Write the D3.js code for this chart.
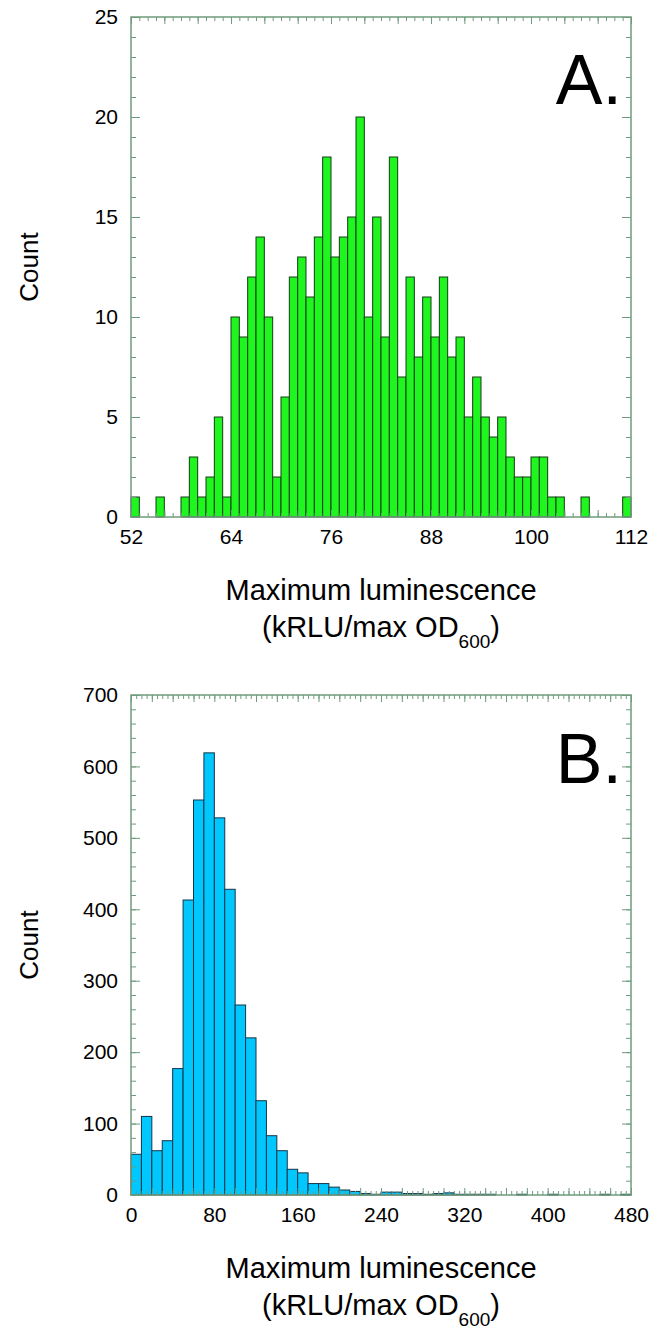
<!DOCTYPE html>
<html>
<head>
<meta charset="utf-8">
<script src="https://cdn.jsdelivr.net/npm/d3@7"></script>
<style>
  body { margin: 0; background: #fff; }
  text { font-family: "Liberation Sans", Arial, sans-serif; fill: #000; }
</style>
</head>
<body>
<div id="chart"></div>
<script>
// panel A: 1-unit bins from 52 to 112
const aBinStart = 52;
const aBinWidth = 1;
const aCounts = [1, 0, 0, 1, 0, 0, 1, 3, 1, 2, 5, 1, 10, 9, 12, 14, 10, 2, 6, 12,
	13, 11, 14, 18, 13, 14, 15, 20, 10, 15, 9, 18, 7, 12, 8, 11, 9, 12, 8, 9,
	5, 7, 5, 4, 5, 3, 2, 2, 3, 3, 1, 1, 0, 0, 1, 0, 0, 0, 0, 1];
const aXTicks = [52, 64, 76, 88, 100, 112];
const aYTicks = [0, 5, 10, 15, 20, 25];

// panel B: 10-unit bins from 0 to 480
const bBinStart = 0;
const bBinWidth = 10;
const bCounts = [57, 110, 62, 76, 177, 413, 553, 619, 528, 428, 266, 220, 132, 83, 62, 36,
	31, 16, 16, 11, 7, 5, 2, 1, 4, 4, 2, 2, 1, 2, 3, 1, 1, 1, 1, 0,
	0, 1, 0, 0, 1, 0, 0, 0, 0, 1, 0, 1];
const bXTicks = [0, 80, 160, 240, 320, 400, 480];
const bYTicks = [0, 100, 200, 300, 400, 500, 600, 700];

const width = 657;
const height = 1337;
const axisColor = "#6f9c7e";

const svg = d3.select("#chart")
	.append("svg")
	.attr("width", width)
	.attr("height", height);

function drawPanel(opts) {
	const x = d3.scaleLinear().domain(opts.xDomain).range([131, 631]);
	const y = d3.scaleLinear().domain(opts.yDomain).range([opts.bottom, opts.top]);
	const g = svg.append("g");

	// bars
	g.selectAll("rect.bar")
		.data(opts.counts)
		.join("rect")
		.attr("class", "bar")
		.attr("x", (d, i) => x(opts.binStart + i * opts.binWidth))
		.attr("width", x(opts.binWidth) - x(0))
		.attr("y", (d) => y(d))
		.attr("height", (d) => y(0) - y(d))
		.attr("fill", opts.fill)
		.attr("stroke", opts.stroke)
		.attr("stroke-width", 1)
		.attr("display", (d) => (d > 0 ? null : "none"));

	// ticks on all four sides, pointing inward
	const xMinor = d3.range(opts.xDomain[0], opts.xDomain[1] + 1e-9, opts.xMinor);
	const yMinor = d3.range(opts.yDomain[0], opts.yDomain[1] + 1e-9, opts.yMinor);

	const tickAxis = (axis, vals, size, tx, ty) =>
		g.append("g")
			.attr("transform", `translate(${tx},${ty})`)
			.call(axis.tickValues(vals).tickSize(size).tickFormat(""))
			.call((s) => s.select(".domain").remove())
			.call((s) => s.selectAll("line").attr("stroke", axisColor).attr("stroke-width", 1));

	tickAxis(d3.axisBottom(x), xMinor, -4, 0, opts.bottom);
	tickAxis(d3.axisTop(x), xMinor, -4, 0, opts.top);
	tickAxis(d3.axisBottom(x), opts.xMid, -7, 0, opts.bottom);
	tickAxis(d3.axisTop(x), opts.xMid, -7, 0, opts.top);
	tickAxis(d3.axisLeft(y), yMinor, -5, 131, 0);
	tickAxis(d3.axisRight(y), yMinor, -5, 631, 0);
	tickAxis(d3.axisLeft(y), opts.yTicks, -9, 131, 0);
	tickAxis(d3.axisRight(y), opts.yTicks, -9, 631, 0);

	// frame
	g.append("rect")
		.attr("x", 131)
		.attr("y", opts.top)
		.attr("width", 500)
		.attr("height", opts.bottom - opts.top)
		.attr("fill", "none")
		.attr("stroke", axisColor)
		.attr("stroke-width", 1.5);

	// tick labels
	g.append("g")
		.attr("transform", `translate(0,${opts.bottom})`)
		.call(d3.axisBottom(x).tickValues(opts.xTicks).tickSize(0).tickPadding(12))
		.call((s) => s.select(".domain").remove())
		.selectAll("text")
		.attr("font-size", 21)
		.attr("font-family", "Liberation Sans, Arial, sans-serif")
		.attr("fill", "#000");

	g.append("g")
		.attr("transform", "translate(131,0)")
		.call(d3.axisLeft(y).tickValues(opts.yTicks).tickSize(0).tickPadding(13))
		.call((s) => s.select(".domain").remove())
		.selectAll("text")
		.attr("font-size", 21)
		.attr("font-family", "Liberation Sans, Arial, sans-serif")
		.attr("fill", "#000");

	// axis titles
	g.append("text")
		.attr("transform", `translate(38,${(opts.top + opts.bottom) / 2}) rotate(-90)`)
		.attr("text-anchor", "middle")
		.attr("font-size", 26)
		.text("Count");

	g.append("text")
		.attr("x", 381)
		.attr("y", opts.bottom + 83)
		.attr("text-anchor", "middle")
		.attr("font-size", 29)
		.text("Maximum luminescence");

	const t2 = g.append("text")
		.attr("x", 381)
		.attr("y", opts.bottom + 120)
		.attr("text-anchor", "middle")
		.attr("font-size", 29);
	t2.append("tspan").text("(kRLU/max OD");
	t2.append("tspan").attr("font-size", 19).attr("dy", 11).text("600");
	t2.append("tspan").attr("dy", -11).text(")");

	// panel letter
	g.append("text")
		.attr("x", 622)
		.attr("y", opts.top + opts.letterDy)
		.attr("text-anchor", "end")
		.attr("font-size", 70)
		.text(opts.letter);
}

drawPanel({
	xDomain: [52, 112], yDomain: [0, 25],
	top: 17, bottom: 517,
	binStart: aBinStart, binWidth: aBinWidth, counts: aCounts,
	xTicks: aXTicks, yTicks: aYTicks,
	xMinor: 1, xMid: d3.range(52, 113, 4), yMinor: 1,
	fill: "#1ff51f", stroke: "#153c15",
	letter: "A.", letterDy: 87
});

drawPanel({
	xDomain: [0, 480], yDomain: [0, 700],
	top: 695, bottom: 1195,
	binStart: bBinStart, binWidth: bBinWidth, counts: bCounts,
	xTicks: bXTicks, yTicks: bYTicks,
	xMinor: 5, xMid: d3.range(0, 481, 20), yMinor: 20,
	fill: "#00c8ff", stroke: "#14344a",
	letter: "B.", letterDy: 88
});
</script>
</body>
</html>
